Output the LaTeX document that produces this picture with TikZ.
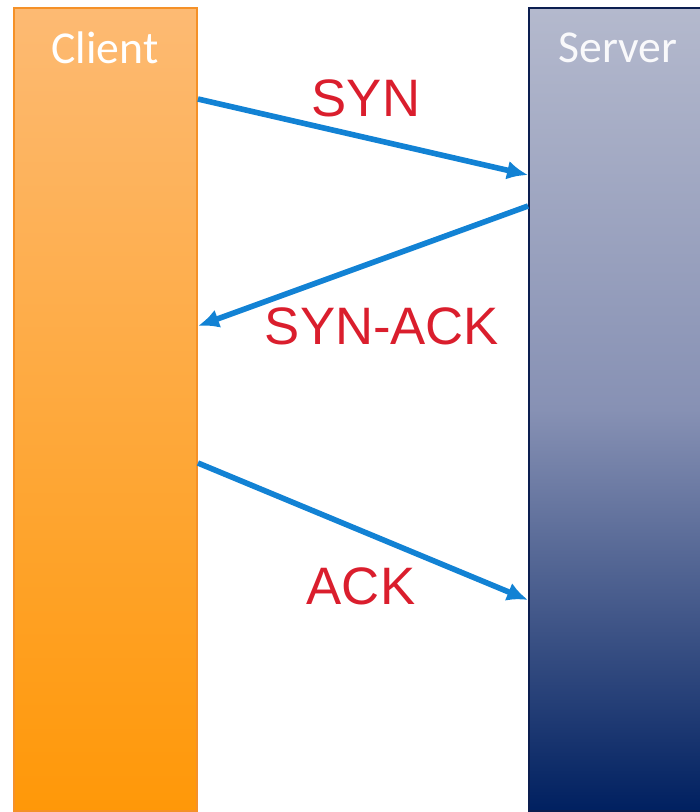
\documentclass[tikz,border=0pt]{standalone}
\usepackage{fontspec}
\setmainfont{Liberation Sans}
\newfontfamily\hostfont{Carlito}
\usetikzlibrary{arrows.meta}
\definecolor{clitop}{RGB}{253,186,115}
\definecolor{clibot}{RGB}{255,152,8}
\definecolor{cliedge}{RGB}{245,145,40}
\definecolor{srvtop}{RGB}{180,185,205}
\definecolor{srvmid}{RGB}{135,145,180}
\definecolor{srvbot}{RGB}{0,32,96}
\definecolor{srvedge}{RGB}{12,30,80}
\definecolor{msgblue}{RGB}{18,130,212}
\definecolor{msgred}{RGB}{218,30,45}
\begin{document}
\begin{tikzpicture}[
  x=0.02cm, y=-0.02cm,
  hostbar/.style = {shade, line width=1.1pt, inner sep=0pt,
    minimum width=3.66cm, minimum height=16.06cm},
  hostlbl/.style = {font=\hostfont\fontsize{26}{26}\selectfont, text=white},
  msg/.style = {-{Latex[length=0.42cm, width=0.38cm]}, line width=3.2pt, msgblue},
  msglbl/.style = {font=\fontsize{30}{30}\selectfont, text=msgred}
]
  \useasboundingbox (0,0) rectangle (700,812);
  % the two hosts
  \node[hostbar, draw=cliedge, top color=clitop, bottom color=clibot]
    (client) at (105.5,409.5) {};
  \node[hostbar, draw=srvedge, top color=srvtop, bottom color=srvbot,
    middle color=srvmid] (server) at (620.5,409.5) {};
  \node[hostlbl] (clientlbl) at (105,48) {Client};
  \node[hostlbl, text=white!92!srvtop] (serverlbl) at (618,48) {Server};
  % end points of the messages
  \coordinate (syn-a) at (client.east |- 0,99);
  \coordinate (syn-b) at (server.west |- 0,175);
  \coordinate (synack-a) at (server.west |- 0,206);
  \coordinate (synack-b) at (client.east |- 0,326);
  \coordinate (ack-a) at (client.east |- 0,463);
  \coordinate (ack-b) at (server.west |- 0,600);
  % handshake
  \draw[msg] (syn-a) -- (syn-b);
  \draw[msg] (synack-a) -- (synack-b);
  \draw[msg] (ack-a) -- (ack-b);
  \node[msglbl] (synlbl) at (366,98) {SYN};
  \node[msglbl] (synacklbl) at (382,326) {SYN-ACK};
  \node[msglbl] (acklbl) at (361,586) {ACK};
\end{tikzpicture}
\end{document}
